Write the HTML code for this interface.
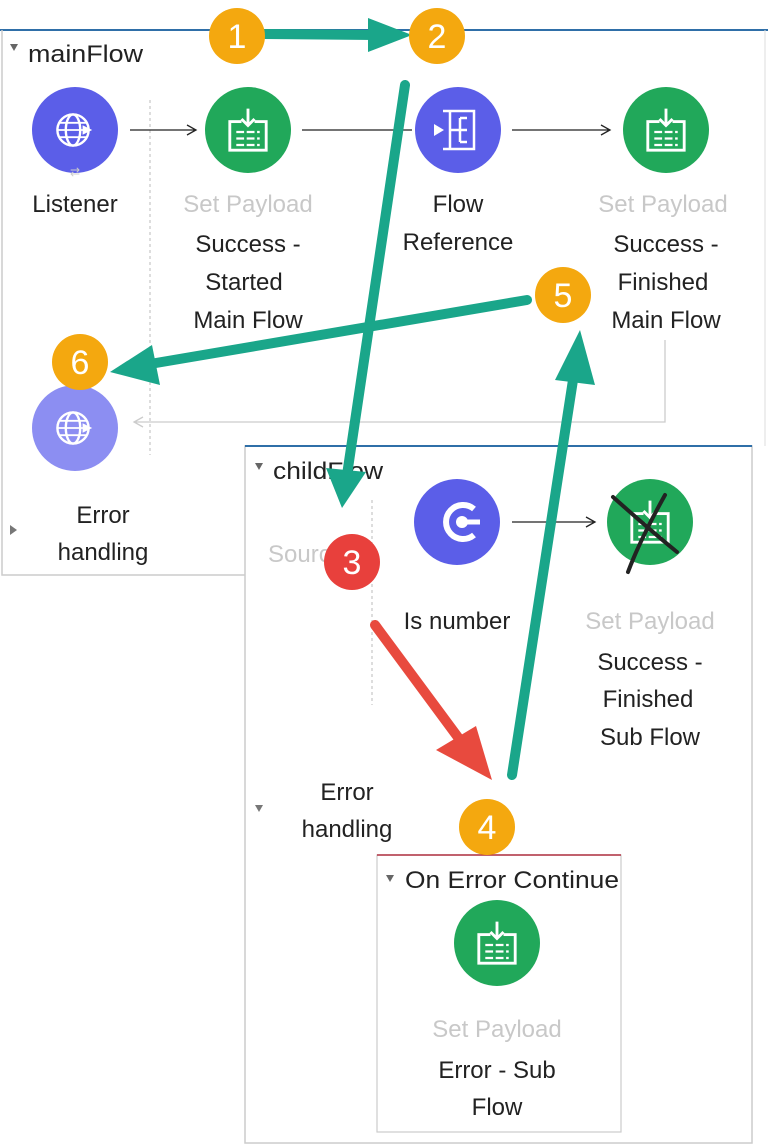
<!DOCTYPE html>
<html><head><meta charset="utf-8"><style>
html,body{margin:0;padding:0;background:#fff;}
svg{display:block;font-family:"Liberation Sans",sans-serif;}
</style></head><body>
<svg width="768" height="1145" viewBox="0 0 768 1145" xmlns="http://www.w3.org/2000/svg">
<defs>
<g id="sp0"><rect x="-14" y="-8" width="28" height="22" fill="none" stroke="#fff" stroke-width="2.2"/><rect x="-5" y="-10" width="10" height="4" fill="#21a85a"/><path d="M0,-18 V-6 M-5,-10 L0,-5 L5,-10" stroke="#fff" stroke-width="2.2" fill="none"/><path d="M-9,0 H9 M-9,5 H9 M-9,10 H9" stroke="#fff" stroke-width="1.8" stroke-dasharray="6 2"/></g>
<g id="sp"><use href="#sp0" transform="scale(1.3)"/></g>
<g id="globe0"><circle r="13" fill="none" stroke="#fff" stroke-width="2"/><ellipse rx="6" ry="13" fill="none" stroke="#fff" stroke-width="2"/><path d="M-13,0 H13 M-11,-6 H11 M-11,6 H11" stroke="#fff" stroke-width="1.5"/><path d="M8,-4 L16,0 L8,4Z" fill="#fff"/></g>
<g id="globe"><use href="#globe0" transform="scale(1.2)"/></g>
</defs>
<line x1="0" y1="30" x2="768" y2="30" stroke="#2f6fa8" stroke-width="2"/>
<path d="M2,30 V575 H245" fill="none" stroke="#ccc" stroke-width="1.5"/>
<line x1="765" y1="30" x2="765" y2="446" stroke="#ddd"/>
<path d="M10,44 L18,44 L14,51Z" fill="#666"/>
<text x="28" y="62" font-size="24" fill="#222" textLength="115" lengthAdjust="spacingAndGlyphs">mainFlow</text>
<line x1="150" y1="100" x2="150" y2="455" stroke="#bbb" stroke-dasharray="3 3"/>
<path d="M130,130 H195 M187,125 L196,130 L187,135" stroke="#222" stroke-width="1.3" fill="none"/>
<line x1="302" y1="130" x2="412" y2="130" stroke="#222" stroke-width="1.3"/>
<path d="M512,130 H610 M601,125 L610,130 L601,135" stroke="#222" stroke-width="1.3" fill="none"/>
<path d="M665,340 V422 H135 M143,417 L134,422 L143,427" stroke="#ccc" stroke-width="1.3" fill="none"/>
<circle cx="75" cy="130" r="43" fill="#5b5ee8"/><use href="#globe" x="73" y="130"/>
<text x="75" y="176" font-size="12" fill="#ccc" text-anchor="middle">⇄</text>
<circle cx="248" cy="130" r="43" fill="#21a85a"/><use href="#sp" x="248" y="132"/>
<circle cx="458" cy="130" r="43" fill="#5b5ee8"/>
<g stroke="#fff" stroke-width="2.5" fill="none"><path d="M450,111 V149 M443,111 H474 V149 H443"/><path d="M450,130 H460 M460,118 H467 M460,130 H467 M460,142 H467 M460,118 V142"/></g>
<path d="M434,124 L444,130 L434,136Z" fill="#fff"/>
<circle cx="666" cy="130" r="43" fill="#21a85a"/><use href="#sp" x="666" y="132"/>
<circle cx="75" cy="428" r="43" fill="#8c8ef2"/><use href="#globe" x="73" y="428"/>
<g font-size="24" text-anchor="middle" fill="#222">
<text x="75" y="212">Listener</text>
<text x="248" y="212" fill="#c8c8c8">Set Payload</text>
<text x="248" y="252">Success -</text><text x="244" y="290">Started</text><text x="248" y="328">Main Flow</text>
<text x="458" y="212">Flow</text><text x="458" y="250">Reference</text>
<text x="663" y="212" fill="#c8c8c8">Set Payload</text>
<text x="666" y="252">Success -</text><text x="663" y="290">Finished</text><text x="666" y="328">Main Flow</text>
<text x="103" y="523">Error</text><text x="103" y="560">handling</text>
</g>
<path d="M10,525 L17,530 L10,535Z" fill="#777"/>
<rect x="245" y="446" width="507" height="697" fill="#fff" stroke="#ccc" stroke-width="1.5"/>
<line x1="245" y1="446" x2="752" y2="446" stroke="#2f6fa8" stroke-width="2"/>
<path d="M255,463 L263,463 L259,470Z" fill="#666"/>
<text x="273" y="479" font-size="24" fill="#222" textLength="110" lengthAdjust="spacingAndGlyphs">childFlow</text>
<line x1="372" y1="500" x2="372" y2="705" stroke="#bbb" stroke-dasharray="3 3"/>
<text x="268" y="562" font-size="24" fill="#c8c8c8">Source</text>
<circle cx="457" cy="522" r="43" fill="#5b5ee8"/>
<path d="M474,509 A17,17 0 1 0 474,535" stroke="#fff" stroke-width="6" fill="none"/>
<circle cx="462" cy="522" r="6" fill="#fff"/><line x1="462" y1="522" x2="480" y2="522" stroke="#fff" stroke-width="5"/>
<path d="M512,522 H595 M586,517 L595,522 L586,527" stroke="#222" stroke-width="1.3" fill="none"/>
<circle cx="650" cy="522" r="43" fill="#21a85a"/><use href="#sp" x="650" y="524"/>
<path d="M613,497 Q650,530 677,552 M665,495 Q640,540 628,572" stroke="#222" stroke-width="4" fill="none" stroke-linecap="round"/>
<g font-size="24" text-anchor="middle" fill="#222">
<text x="457" y="629">Is number</text>
<text x="650" y="629" fill="#c8c8c8">Set Payload</text>
<text x="650" y="670">Success -</text><text x="648" y="707">Finished</text><text x="650" y="745">Sub Flow</text>
<text x="347" y="800">Error</text><text x="347" y="837">handling</text>
</g>
<path d="M255,805 L263,805 L259,812Z" fill="#777"/>
<rect x="377" y="855" width="244" height="277" fill="#fff" stroke="#ccc" stroke-width="1.2"/>
<line x1="377" y1="855" x2="621" y2="855" stroke="#b03040" stroke-width="1.5"/>
<path d="M386,875 L394,875 L390,882Z" fill="#666"/>
<text x="405" y="888" font-size="24" fill="#222" textLength="214" lengthAdjust="spacingAndGlyphs">On Error Continue</text>
<circle cx="497" cy="943" r="43" fill="#21a85a"/><use href="#sp" x="497" y="945"/>
<g font-size="24" text-anchor="middle" fill="#222">
<text x="497" y="1037" fill="#c8c8c8">Set Payload</text>
<text x="497" y="1078">Error - Sub</text><text x="497" y="1115">Flow</text>
</g>
<g stroke="#1aa68a" stroke-width="10" stroke-linecap="round" fill="#1aa68a">
<line x1="265" y1="34" x2="375" y2="35"/>
<line x1="405" y1="85" x2="347" y2="475"/>
<line x1="512" y1="775" x2="573" y2="380"/>
<line x1="527" y1="300" x2="150" y2="364"/>
</g>
<g fill="#1aa68a">
<path d="M368,18 L412,35 L368,52Z"/>
<path d="M326,468 L342,508 L366,472Z"/>
<path d="M555,380 L580,330 L595,385Z"/>
<path d="M152,345 L110,372 L160,385Z"/>
</g>
<line x1="375" y1="625" x2="460" y2="740" stroke="#e84a3e" stroke-width="10" stroke-linecap="round"/>
<path d="M436,750 L492,780 L476,726Z" fill="#e84a3e"/>
<g font-size="34" fill="#fff" text-anchor="middle">
<circle cx="237" cy="36" r="28" fill="#f4a80f"/><text x="237" y="48">1</text>
<circle cx="437" cy="36" r="28" fill="#f4a80f"/><text x="437" y="48">2</text>
<circle cx="563" cy="295" r="28" fill="#f4a80f"/><text x="563" y="307">5</text>
<circle cx="80" cy="362" r="28" fill="#f4a80f"/><text x="80" y="374">6</text>
<circle cx="352" cy="562" r="28" fill="#e8403c"/><text x="352" y="574">3</text>
<circle cx="487" cy="827" r="28" fill="#f4a80f"/><text x="487" y="839">4</text>
</g>
</svg>
</body></html>
